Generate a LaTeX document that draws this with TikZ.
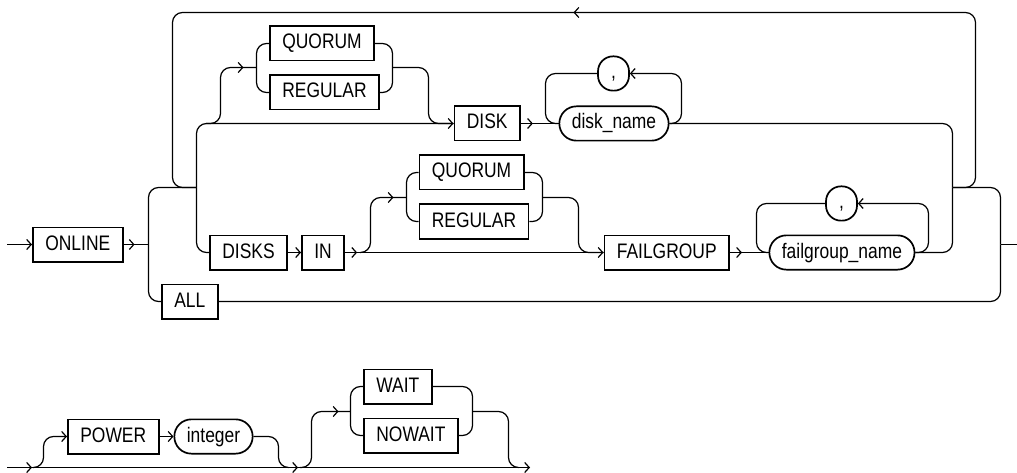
\documentclass[tikz,border=0pt]{standalone}
\usepackage{fontspec}
\setmainfont{Liberation Sans}[FakeStretch=0.83]
\usetikzlibrary{arrows.meta,decorations.markings}

\tikzset{
  kw/.style={draw, line width=1.7pt, minimum height=34.3pt, inner xsep=12.5pt, inner ysep=0pt,
    text height=14pt, text depth=3pt, font=\fontsize{21}{24}\selectfont},
  var/.style={kw, rounded corners=17pt},
  sep/.style={kw, rounded corners=15pt, minimum width=31pt, inner xsep=0pt},
  rail/.style={line width=1.2pt, rounded corners=10pt},
  arrowat/.style={postaction={decorate, decoration={markings, mark=at position #1 with {\arrow{>}}}}},
}

\begin{document}
\begin{tikzpicture}[x=1pt, y=-1pt, >={Straight Barb[length=4.5pt,width=10pt]}]
    \useasboundingbox (0,0) rectangle (1017,473);

    \node[kw, anchor=west] (online) at (32,244.5) {ONLINE};
    \node[kw, anchor=west] (quorumA) at (269,43.5) {QUORUM};
    \node[kw, anchor=west] (regularA) at (269,92.5) {REGULAR};
    \node[kw, anchor=west] (disk) at (453.5,123.5) {DISK};
    \node[var, anchor=west] (diskname) at (558.5,123.5) {disk\_name};
    \node[sep] (commaA) at (613.5,73.5) {,};
    \node[kw, anchor=west] (disks) at (209,252.5) {DISKS};
    \node[kw, anchor=west] (kwIn) at (301,252.5) {IN};
    \node[kw, anchor=west] (quorumB) at (418.5,172.5) {QUORUM};
    \node[kw, anchor=west] (regularB) at (418.5,221.5) {REGULAR};
    \node[kw, anchor=west] (failgroup) at (603.5,252.5) {FAILGROUP};
    \node[var, anchor=west] (fgname) at (768.5,252.5) {failgroup\_name};
    \node[sep] (commaB) at (841.5,203.5) {,};
    \node[kw, anchor=west] (all) at (161,301.5) {ALL};

    \node[kw, anchor=west] (power) at (67,436.5) {POWER};
    \node[var, anchor=west] (integer) at (173.5,436.5) {integer};
    \node[kw, anchor=west] (wait) at (363,386.5) {WAIT};
    \node[kw, anchor=west] (nowait) at (363,435.5) {NOWAIT};

    \coordinate (start) at (7,244.5);
    \coordinate (split) at (148.5,244.5);
    \coordinate (sub) at (196.5,187.5);
    \coordinate (merge) at (952.5,187.5);
    \coordinate (join) at (1000.5,244.5);
    \coordinate (finish) at (1017,244.5);
    \coordinate (brA) at (206,123.5);
    \coordinate (chA) at (256.5,67.5);
    \coordinate (chAr) at (392.5,67.5);
    \coordinate (brB) at (360,252.5);
    \coordinate (chB) at (406.5,197.5);
    \coordinate (chBr) at (542.5,197.5);

    \draw[rail, ->] (start) -- (online.west);
    \draw[rail, arrowat=11pt] (online.east) -- (split);
    \draw[rail] (split) |- (sub);
    \draw[rail] (split) |- (all.west);
    \draw[rail] (all.east) -| (join);
    \draw[rail] (merge) -| (join);
    \draw[rail] (join) -- (finish);
    \draw[rail, arrowat=0.5] (merge) -- (975.5,187.5) -- (975.5,12.5) -- (172.5,12.5) -- (172.5,187.5) -- (sub);

    \draw[rail, ->] (sub) |- (disk.west);
    \draw[rail] (sub) |- (disks.west);
    \draw[rail, arrowat=-13pt] (brA) -| (220.5,67.5) -- (chA);
    \draw[rail] (quorumA.west) -| (chA) |- (regularA.west);
    \draw[rail] (quorumA.east) -| (chAr) |- (regularA.east);
    \draw[rail] (chAr) -| (428.5,123.5) -- (disk.west);
    \draw[rail, arrowat=12pt] (disk.east) -- (diskname.west);
    \draw[rail, ->] (diskname.east) -| (681.5,73.5) -- (commaA.east);
    \draw[rail] (commaA.west) -| (545.5,123.5) -- (diskname.west);
    \draw[rail] (diskname.east) -| (merge);

    \draw[rail, ->] (disks.east) -- (kwIn.west);
    \draw[rail, arrowat=12pt] (kwIn.east) -- (brB);
    \draw[rail, ->] (brB) -- (failgroup.west);
    \draw[rail, arrowat=-13pt] (brB) -| (370.5,197.5) -- (chB);
    \draw[rail] (quorumB.west) -| (chB) |- (regularB.west);
    \draw[rail] (quorumB.east) -| (chBr) |- (regularB.east);
    \draw[rail] (chBr) -| (578.5,252.5) -- (failgroup.west);
    \draw[rail, arrowat=12pt] (failgroup.east) -- (fgname.west);
    \draw[rail, ->] (fgname.east) -| (928.5,203.5) -- (commaB.east);
    \draw[rail] (commaB.west) -| (756.5,252.5) -- (fgname.west);
    \draw[rail] (fgname.east) -| (merge);

    \coordinate (startB) at (7,467.5);
    \coordinate (finishB) at (530,467.5);
    \coordinate (brC) at (33,467.5);
    \coordinate (mgC) at (288,467.5);
    \coordinate (brD) at (300,467.5);
    \coordinate (chC) at (350.5,411.5);
    \coordinate (chCr) at (472.5,411.5);
    \coordinate (mgD) at (518,467.5);

    \draw[rail, arrowat=25pt, arrowat=291pt] (startB) -- (brD);
    \draw[rail, ->] (brD) -- (finishB);
    \draw[rail, ->] (brC) -| (43.5,436.5) -- (power.west);
    \draw[rail, ->] (power.east) -- (integer.west);
    \draw[rail] (integer.east) -| (278.5,467.5) -- (mgC);
    \draw[rail, arrowat=-12pt] (brD) -| (311.5,411.5) -- (chC);
    \draw[rail] (wait.west) -| (chC) |- (nowait.west);
    \draw[rail] (wait.east) -| (chCr) |- (nowait.east);
    \draw[rail] (chCr) -| (508.5,467.5) -- (mgD);
\end{tikzpicture}
\end{document}
